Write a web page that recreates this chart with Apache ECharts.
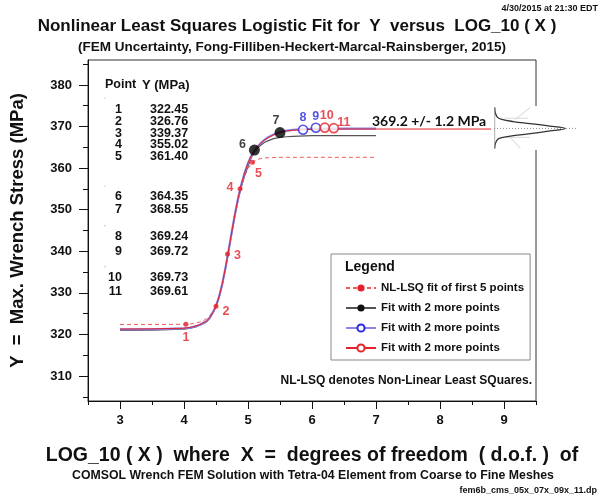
<!DOCTYPE html>
<html><head><meta charset="utf-8">
<script src="https://cdn.jsdelivr.net/npm/echarts@6/dist/echarts.min.js"></script>
<style>html,body{margin:0;padding:0;background:#fff}#c{width:602px;height:501px}</style>
</head><body><div id="c"></div>
<script>
// ---- data ----
const pointIds = ['1','2','3','4','5','6','7','8','9','10','11'];
const logX = [4.03, 4.50, 4.68, 4.876, 5.07, 5.10, 5.50, 5.86, 6.06, 6.20, 6.34];
const stressY = [322.45, 326.76, 339.37, 355.02, 361.40, 364.35, 368.55, 369.24, 369.72, 369.73, 369.61];
const tableValues = ['322.45','326.76','339.37','355.02','361.40','364.35','368.55','369.24','369.72','369.73','369.61'];

const curveX = [3.0, 3.5, 4.0, 4.05, 4.1, 4.15, 4.2, 4.25, 4.3, 4.35, 4.4, 4.45, 4.5, 4.55, 4.6, 4.65, 4.7, 4.75, 4.8, 4.85, 4.9, 4.95, 5.0, 5.05, 5.1, 5.15, 5.2, 5.25, 5.3, 5.4, 5.5, 5.6, 5.7, 5.8, 6.0, 6.5, 7.0];
const fit5Y  = [322.4, 322.4, 322.45, 322.5, 322.55, 322.65, 322.8, 323.0, 323.3, 323.8, 324.5, 325.5, 326.9, 329.1, 332.1, 336.0, 340.4, 344.9, 349.2, 353.0, 356.0, 358.3, 359.9, 361.0, 361.7, 362.1, 362.3, 362.45, 362.5, 362.55, 362.6, 362.6, 362.6, 362.6, 362.6, 362.6, 362.6];
const fit7Y  = [321.0, 321.05, 321.3, 321.4, 321.5, 321.7, 321.9, 322.2, 322.6, 323.0, 323.8, 325.1, 326.6, 329.0, 332.1, 336.0, 340.3, 344.7, 348.9, 352.6, 355.7, 358.3, 360.4, 362.5, 363.8, 364.8, 365.5, 366.1, 366.5, 367.1, 367.4, 367.55, 367.65, 367.7, 367.8, 367.8, 367.8];
const fit9Y  = [321.2, 321.25, 321.45, 321.55, 321.65, 321.85, 322.05, 322.35, 322.75, 323.2, 324.0, 325.3, 326.8, 329.2, 332.3, 336.2, 340.5, 345.0, 349.3, 353.1, 356.3, 359.0, 361.2, 362.9, 364.2, 365.2, 366.0, 366.7, 367.3, 368.1, 368.65, 369.0, 369.2, 369.3, 369.45, 369.5, 369.5];
const fit11Y = [321.3, 321.35, 321.5, 321.6, 321.7, 321.9, 322.1, 322.4, 322.8, 323.2, 324.0, 325.3, 326.8, 329.2, 332.3, 336.2, 340.5, 345.0, 349.3, 353.1, 356.3, 359.0, 361.2, 362.9, 364.2, 365.2, 366.0, 366.7, 367.2, 368.0, 368.6, 368.9, 369.1, 369.2, 369.35, 369.4, 369.4];
const fit11ExtX = [8.8];
const fit11ExtY = [369.4];

const bellStress  = [374.6, 373.2, 372.2, 371.7, 371.2, 370.7, 370.2, 369.55, 368.85, 368.3, 367.8, 367.35, 366.9, 365.95, 364.75];
const bellDensity = [0.01, 0.02, 0.05, 0.11, 0.27, 0.51, 0.74, 1.0, 0.74, 0.51, 0.27, 0.11, 0.05, 0.02, 0.01];
const bellCenter = 369.55;

const xMajorTicks = [3, 4, 5, 6, 7, 8, 9];
const xMinorTicks = [2.5, 3.5, 4.5, 5.5, 6.5, 7.5, 8.5, 9.5];
const yMajorTicks = [310, 320, 330, 340, 350, 360, 370, 380];
const yMinorTicks = [305, 315, 325, 335, 345, 355, 365, 375, 385];

// ---- styles ----
const RED = '#e3222b', BLUE = '#2a2ae0', LAV = '#8c84e8', BLK = '#111';
const F = 'Liberation Sans, Arial, sans-serif';
const labelOffsets = [[0,13],[10,5],[10,2],[-10,-1],[6,11],[-12,-5],[-4,-12],[0,-12],[0,-11],[2,-12],[10,-6]];
const labelColors = [RED,RED,RED,RED,RED,BLK,BLK,BLUE,BLUE,RED,RED];

function pts(xs, ys){ return xs.map((x,i)=>[x, ys[i]]); }
function ptItems(from, to){
  const out=[];
  for(let i=from;i<=to;i++){
    out.push({value:[logX[i], stressY[i]], name: pointIds[i],
      label:{show:true, formatter: pointIds[i], position:'inside', offset: labelOffsets[i],
        color: labelColors[i], fontFamily:F, fontWeight:'bold', fontSize:12.5}});
  }
  return out;
}

const chart = echarts.init(document.getElementById('c'), null, {renderer:'canvas'});

const axisTextStyle = {fontFamily:F, fontWeight:'bold', fontSize:13, color:'#111'};
const common = {min:2.5, max:9.5, type:'value', gridIndex:0, position:'bottom'};

const graphics = [];
graphics.push({type:'rect', shape:{x:494, y:106, width:85, height:44}, style:{fill:'#fff'}, z:1, silent:true});
graphics.push({type:'text', x:598, y:4, style:{text:'4/30/2015 at 21:30 EDT', font:'bold 9px '+F, fill:'#111', textAlign:'right', textVerticalAlign:'top'}});
graphics.push({type:'text', x:297, y:26, style:{text:'Nonlinear Least Squares Logistic Fit for  Y  versus  LOG_10 ( X )', font:'bold 17px '+F, fill:'#111', textAlign:'center', textVerticalAlign:'middle'}});
graphics.push({type:'text', x:292, y:47, style:{text:'(FEM Uncertainty, Fong-Filliben-Heckert-Marcal-Rainsberger, 2015)', font:'bold 13.5px '+F, fill:'#111', textAlign:'center', textVerticalAlign:'middle'}});
graphics.push({type:'text', x:313, y:476, style:{text:'COMSOL Wrench FEM Solution with Tetra-04 Element from Coarse to Fine Meshes', font:'bold 12.3px '+F, fill:'#111', textAlign:'center', textVerticalAlign:'middle'}});
graphics.push({type:'text', x:597, y:491, style:{text:'fem6b_cms_05x_07x_09x_11.dp', font:'bold 9px '+F, fill:'#111', textAlign:'right', textVerticalAlign:'middle'}});
graphics.push({type:'text', x:105, y:85, style:{text:'Point', font:'bold 12.5px '+F, fill:'#111', textAlign:'left', textVerticalAlign:'middle'}});
graphics.push({type:'text', x:142, y:85, style:{text:'Y (MPa)', font:'bold 13px '+F, fill:'#111', textAlign:'left', textVerticalAlign:'middle'}});
const rowY = [110, 121.7, 133.3, 144.7, 156.7, 196.7, 210, 236.7, 251.7, 278, 291.7];
for(let i=0;i<pointIds.length;i++){
  graphics.push({type:'text', x:122, y:rowY[i], style:{text:pointIds[i], font:'bold 12.5px '+F, fill:'#111', textAlign:'right', textVerticalAlign:'middle'}});
  graphics.push({type:'text', x:150, y:rowY[i], style:{text:tableValues[i], font:'bold 12.5px '+F, fill:'#111', textAlign:'left', textVerticalAlign:'middle'}});
}
[98, 186, 225.7, 266.7].forEach(y=>graphics.push({type:'circle', shape:{cx:105, cy:y, r:0.6}, style:{fill:'#999'}}));
graphics.push({type:'text', x:372, y:121, style:{text:'369.2 +/- 1.2 MPa', font:'bold 14px Lato, "Open Sans", sans-serif', fill:'#111', textAlign:'left', textVerticalAlign:'middle'}});
graphics.push({type:'text', x:345, y:267, z:100, style:{text:'Legend', font:'bold 14px '+F, fill:'#111', textAlign:'left', textVerticalAlign:'middle'}});
graphics.push({type:'text', x:532, y:381, style:{text:'NL-LSQ denotes Non-Linear Least SQuares.', font:'bold 12px '+F, fill:'#111', textAlign:'right', textVerticalAlign:'middle'}});

const legendNames = {fit5:'NL-LSQ fit of first 5 points', fit7:'Fit with 2 more points', fit9:'Fit with 2 more points', fit11:'Fit with 2 more points'};

const option = {
  animation:false,
  backgroundColor:'#fff',
  grid:[
    {left:88, top:60, width:448, height:341, show:true, borderColor:'#333', borderWidth:1, backgroundColor:'transparent', containLabel:false, outerBoundsMode:'none'},
    {left:494, top:60, width:84, height:341, show:false, containLabel:false, outerBoundsMode:'none'}
  ],
  xAxis:[
    Object.assign({}, common, {
      name:'LOG_10 ( X )  where  X  =  degrees of freedom  ( d.o.f. )  of',
      nameLocation:'middle', nameGap:45,
      nameTextStyle:{fontFamily:F, fontWeight:'bold', fontSize:19.5, color:'#111'},
      axisLine:{show:true, onZero:false, lineStyle:{color:'#111', width:1}},
      axisTick:{show:true, length:8, customValues:xMajorTicks, lineStyle:{color:'#111'}},
      axisLabel:Object.assign({customValues:xMajorTicks, margin:13}, axisTextStyle),
      splitLine:{show:false}
    }),
    Object.assign({}, common, {
      axisLine:{show:false, onZero:false}, axisLabel:{show:false},
      axisTick:{show:true, length:4, customValues:xMinorTicks, lineStyle:{color:'#111'}},
      splitLine:{show:false}
    }),
    {type:'value', gridIndex:1, min:0, max:1.18, show:false}
  ],
  yAxis:[
    {type:'value', gridIndex:0, min:304, max:386, position:'left',
      name:'Y  =  Max. Wrench Stress (MPa)', nameLocation:'middle', nameGap:61, nameRotate:90,
      nameTextStyle:{fontFamily:F, fontWeight:'bold', fontSize:18.5, color:'#111'},
      axisLine:{show:true, onZero:false, lineStyle:{color:'#111', width:1}},
      axisTick:{show:true, length:9, customValues:yMajorTicks, lineStyle:{color:'#111'}},
      axisLabel:Object.assign({customValues:yMajorTicks, margin:16}, axisTextStyle),
      splitLine:{show:false}},
    {type:'value', gridIndex:0, min:304, max:386, position:'left',
      axisLine:{show:false, onZero:false}, axisLabel:{show:false},
      axisTick:{show:true, length:5, customValues:yMinorTicks, lineStyle:{color:'#111'}},
      splitLine:{show:false}},
    {type:'value', gridIndex:1, min:304, max:386, show:false}
  ],
  legend:{
    left:331, top:254, orient:'vertical', itemWidth:30, itemHeight:9, itemGap:8,
    padding:[28, 6, 6, 14], backgroundColor:'#fff', borderColor:'#888', borderWidth:1, borderRadius:0,
    data:['fit5','fit7','fit9','fit11'],
    formatter: n => legendNames[n],
    textStyle:{fontFamily:F, fontWeight:'bold', fontSize:11.5, color:'#111'},
    selectedMode:false
  },
  graphic: graphics,
  series:[
    {name:'fit5', type:'line', data:pts(curveX, fit5Y), smooth:false, symbol:'circle', symbolSize:4, showSymbol:false,
      lineStyle:{color:'#f05a5a', width:1, type:[4,3]}, itemStyle:{color:RED}, z:3},
    {name:'fit7', type:'line', data:pts(curveX, fit7Y), smooth:false, symbol:'circle', showSymbol:false,
      lineStyle:{color:'#555', width:1.2}, itemStyle:{color:BLK}, z:3},
    {name:'fit9', type:'line', data:pts(curveX, fit9Y), smooth:false, symbol:'emptyCircle', showSymbol:false,
      lineStyle:{color:LAV, width:2.2}, itemStyle:{color:BLUE}, z:3},
    {name:'fit11', type:'line', data:pts(curveX.concat(fit11ExtX), fit11Y.concat(fit11ExtY)), smooth:false, symbol:'emptyCircle', showSymbol:false,
      lineStyle:{color:RED, width:1}, itemStyle:{color:RED}, z:4},
    {name:'pts5', type:'scatter', data:ptItems(0,4), symbol:'circle', symbolSize:5, itemStyle:{color:RED}, z:6},
    {name:'pts7', type:'scatter', data:ptItems(5,6), symbol:'circle', symbolSize:11, itemStyle:{color:'#000'}, z:6},
    {name:'pts9', type:'scatter', data:ptItems(7,8), symbol:'circle', symbolSize:9, itemStyle:{color:'#fff', borderColor:BLUE, borderWidth:1.6}, z:6},
    {name:'pts11', type:'scatter', data:ptItems(9,10), symbol:'circle', symbolSize:9, itemStyle:{color:'#fff', borderColor:RED, borderWidth:1.6}, z:6},
    {name:'bell', type:'line', xAxisIndex:2, yAxisIndex:2, data:bellDensity.map((d,i)=>[d, bellStress[i]]), smooth:0.4,
      showSymbol:false, symbol:'none', lineStyle:{color:'#333', width:1.3}, z:5},
    {name:'bellBar', type:'line', xAxisIndex:2, yAxisIndex:2, data:[[0.01, bellStress[0]],[0.01, bellStress[bellStress.length-1]]],
      showSymbol:false, symbol:'none', lineStyle:{color:'#999', width:0.8}, z:5},
    {name:'bellCenter', type:'line', xAxisIndex:2, yAxisIndex:2, data:[[0, bellCenter],[1.18, bellCenter]],
      showSymbol:false, symbol:'none', lineStyle:{color:'#777', width:0.8, type:[1,2]}, z:5},
    {name:'whiskTop', type:'line', xAxisIndex:2, yAxisIndex:2, data:[[0.51, 374.6],[0.30, 371.7]],
      showSymbol:false, symbol:'none', lineStyle:{color:'#c8c8c8', width:0.8}, z:4},
    {name:'whiskTopH', type:'line', xAxisIndex:2, yAxisIndex:2, data:[[0.15, 372.0],[0.48, 372.0]],
      showSymbol:false, symbol:'none', lineStyle:{color:'#d0d0d0', width:0.8}, z:4},
    {name:'whiskBot', type:'line', xAxisIndex:2, yAxisIndex:2, data:[[0.37, 364.75],[0.23, 367.4]],
      showSymbol:false, symbol:'none', lineStyle:{color:'#c8c8c8', width:0.8}, z:4},
    {name:'whiskBotH', type:'line', xAxisIndex:2, yAxisIndex:2, data:[[0.17, 367.4],[0.5, 367.4]],
      showSymbol:false, symbol:'none', lineStyle:{color:'#d0d0d0', width:0.8}, z:4}
  ]
};
chart.setOption(option);
</script></body></html>
